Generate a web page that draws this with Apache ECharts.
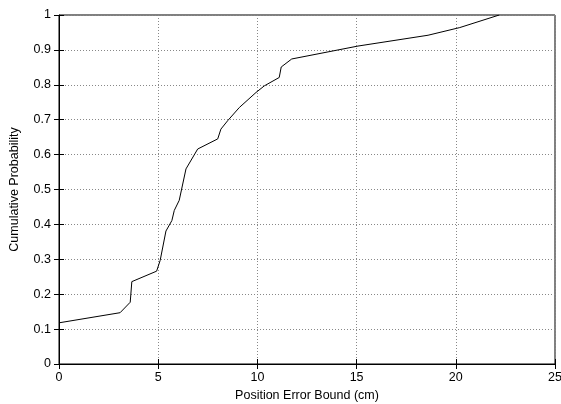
<!DOCTYPE html>
<html>
<head>
<meta charset="utf-8">
<script src="https://cdn.jsdelivr.net/npm/echarts@6/dist/echarts.min.js"></script>
<style>
  html, body { margin: 0; padding: 0; background: #fff; }
  #chart { width: 561px; height: 404px; }
</style>
</head>
<body>
<div id="chart"></div>
<script>
// error bound (cm) vs cumulative probability
const errorBound = [0, 3.08, 3.59, 3.67, 4.92, 5.10, 5.39, 5.69, 5.81, 6.06, 6.40, 6.99, 8.0, 8.16, 8.5, 9.09, 9.93, 10.35, 11.1, 11.2, 11.73, 15.07, 18.6, 20.2, 22.19];
const cumProb = [0.118, 0.147, 0.177, 0.236, 0.266, 0.297, 0.381, 0.411, 0.44, 0.469, 0.559, 0.616, 0.645, 0.673, 0.697, 0.735, 0.778, 0.797, 0.821, 0.851, 0.874, 0.911, 0.942, 0.964, 1.0];

const font = 'Liberation Sans, Arial, sans-serif';
const fs = 12.5;
const chart = echarts.init(document.getElementById('chart'));

const gridLine = {show: true, lineStyle: {color: '#888', type: [1, 2], width: 1}};
const tick = {show: true, inside: true, length: 5, lineStyle: {color: '#000'}};

chart.setOption({
  animation: false,
  grid: {
    left: 59, right: 6, top: 15, bottom: 40,
    outerBoundsMode: 'none', containLabel: false,
    show: true, borderColor: '#000', borderWidth: 1,
  },
  xAxis: [{
    type: 'value', min: 0, max: 25, interval: 5,
    name: 'Position Error Bound (cm)', nameLocation: 'center', nameGap: 23,
    nameTextStyle: {fontFamily: font, fontSize: fs, color: '#000'},
    axisLine: {show: true, lineStyle: {color: '#000'}},
    axisTick: tick,
    axisLabel: {fontFamily: font, fontSize: fs, color: '#000', margin: 7},
    splitLine: gridLine,
  }, {
    type: 'value', position: 'top', min: 0, max: 25, interval: 5,
    axisLine: {show: false}, axisTick: tick, axisLabel: {show: false}, splitLine: {show: false},
  }],
  yAxis: [{
    type: 'value', min: 0, max: 1, interval: 0.1,
    name: 'Cumulative Probability', nameLocation: 'center', nameGap: 38,
    nameTextStyle: {fontFamily: font, fontSize: fs, color: '#000'},
    axisLine: {show: true, lineStyle: {color: '#000'}},
    axisTick: tick,
    axisLabel: {fontFamily: font, fontSize: fs, color: '#000', margin: 8},
    splitLine: gridLine,
  }, {
    type: 'value', position: 'right', min: 0, max: 1, interval: 0.1,
    axisLine: {show: false}, axisTick: tick, axisLabel: {show: false}, splitLine: {show: false},
  }],
  series: [{
    type: 'line',
    data: errorBound.map((x, i) => [x, cumProb[i]]),
    showSymbol: false,
    lineStyle: {color: '#000', width: 1},
    clip: true,
  }],
});
</script>
</body>
</html>
